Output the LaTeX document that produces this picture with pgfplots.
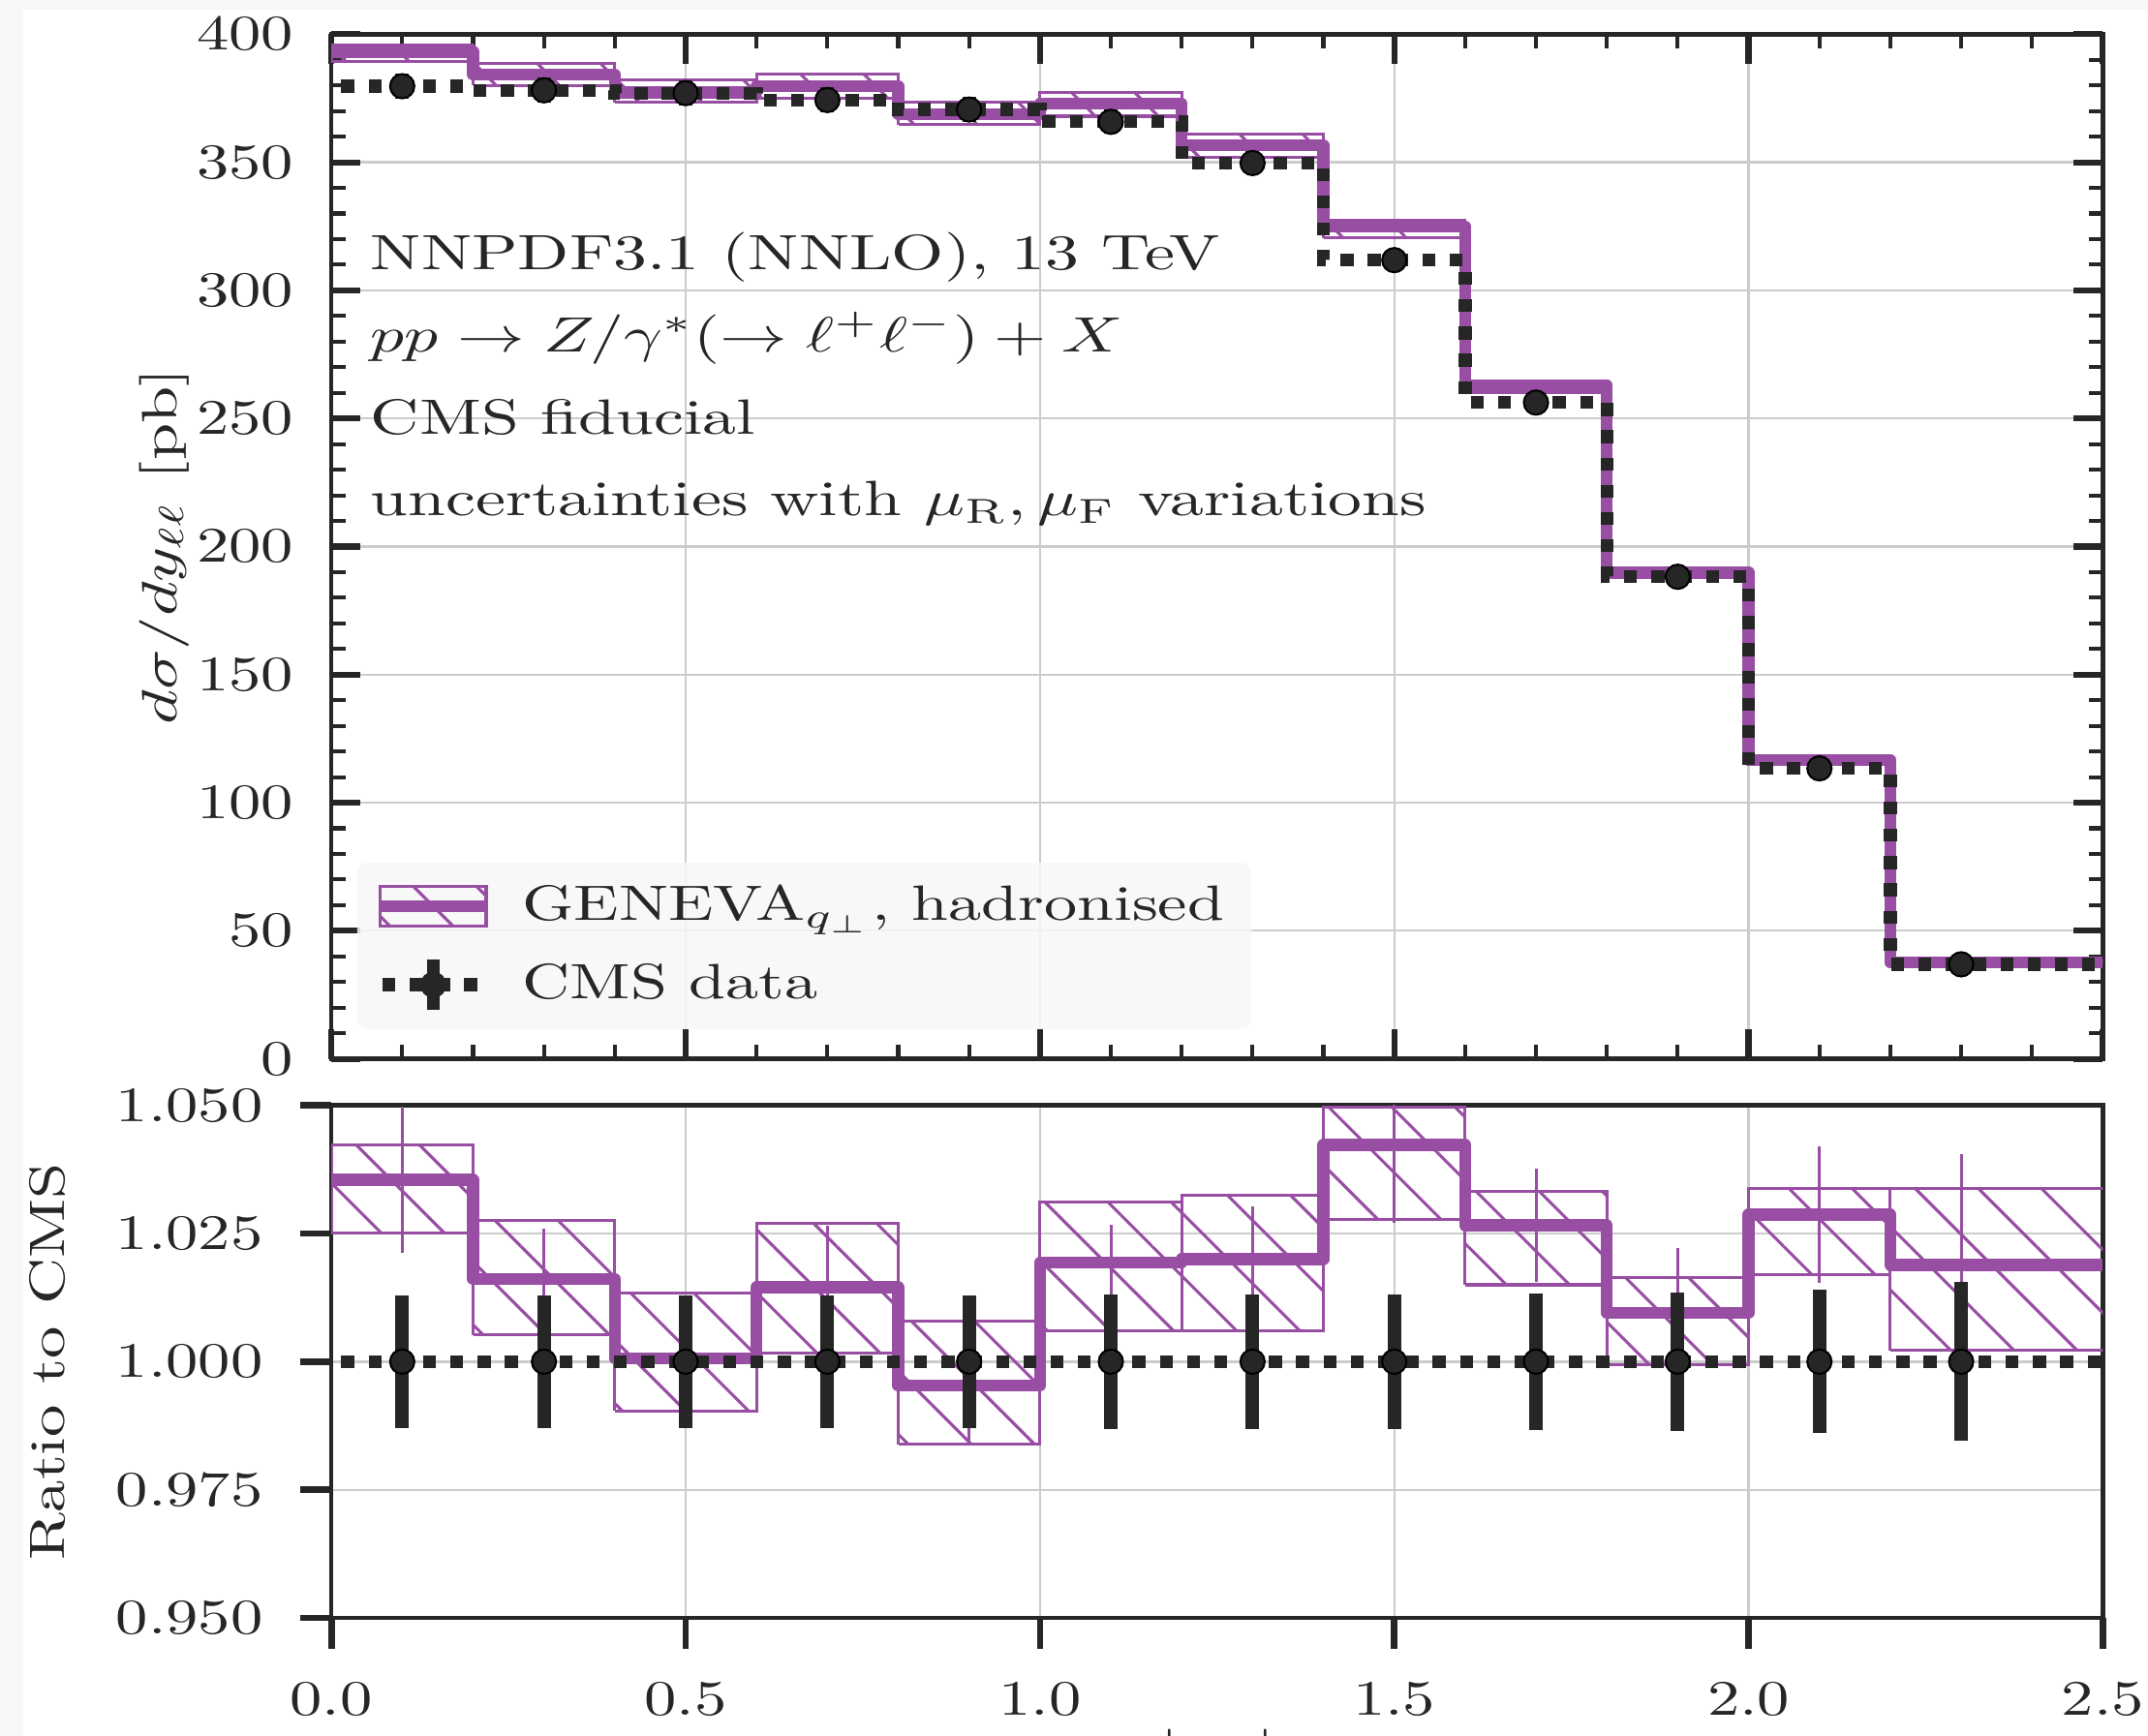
\documentclass[border=0pt]{standalone}
\usepackage{pgfplots}
\pgfplotsset{compat=1.18}
\usepackage{graphicx}
\usetikzlibrary{patterns.meta}

\definecolor{geneva}{HTML}{984EA3}
\definecolor{dark}{HTML}{262626}
\definecolor{gridc}{HTML}{CCCCCC}

\newcommand{\sx}[1]{\scalebox{1.3}[1]{#1}}
\newcommand{\sxa}[1]{\scalebox{1.36}[1]{#1}}

\pgfplotsset{
  band/.style={geneva, line width=0.6pt, pattern={Lines[angle=-45,distance=9pt,line width=0.6pt]}, pattern color=geneva, forget plot},
  cen/.style={geneva, line width=2.4pt, const plot, line join=round, mark=none, forget plot},
  cmsline/.style={dark, line width=2.6pt, const plot, mark=none, dash pattern=on 2.6pt off 2.9pt, dash phase=3.5pt, forget plot},
  cmspts/.style={only marks, mark=*, mark size=2.45pt, mark options={draw=none, fill=dark}, forget plot,
     error bars/.cd, y dir=both, y explicit, error mark=none, error bar style={line width=2.7pt, dark}},
  generr/.style={draw=none, mark=none, forget plot,
     error bars/.cd, y dir=both, y explicit, error mark=none, error bar style={draw=geneva, solid, line width=0.6pt}},
  myaxis/.style={scale only axis, width=357.1pt, xmin=0, xmax=2.5,
     grid=major, major grid style={line width=0.45pt, gridc},
     axis line style={line width=0.9pt, dark}, tick style={dark},
     xtick={0,0.5,1,1.5,2,2.5},
     yticklabel style={inner sep=0pt, xshift=-7.4pt},
  },
}

\begin{document}
\begin{tikzpicture}[every node/.append style={text=dark}]
\fill[black!3] (-66.8pt,6.9pt) rectangle (-62.1pt,-343.05pt);
\fill[black!3] (-66.8pt,6.9pt) rectangle (366.2pt,5.0pt);

% ---------------- top panel ----------------
\begin{axis}[myaxis, at={(0,0)}, anchor=north west, height=206.6pt,
  ymin=0, ymax=400, ytick={0,50,...,400},
  minor x tick num=4, minor y tick num=4,
  tick align=inside, tick pos=both,
  major tick length=5.9pt, minor tick length=2.9pt,
  major tick style={line width=1.2pt}, minor tick style={line width=0.8pt},
  xticklabel=\empty,
  yticklabel={\sx{$\pgfmathprintnumber{\tick}$}},
  ylabel={\scalebox{1.34}[1]{$d\sigma/dy_{\ell\ell}$ [pb]}},
  ylabel style={at={(axis description cs:-0.0944,0.5)}, anchor=center},
  legend style={at={(0.014,0.028)}, anchor=south west, fill=black!3, fill opacity=0.85, text opacity=1,
     draw=none, rounded corners=2pt, inner xsep=3.5pt, inner ysep=2.5pt, row sep=3pt,
     /tikz/every odd column/.append style={column sep=4pt}, nodes={inner sep=2pt, text=dark}},
  legend cell align=left,
]
\addplot[band] coordinates {(0,389.23) (0.2,389.23) (0.2,395.76) (0,395.76) (0,389.23)};
\addplot[band] coordinates {(0.2,380.07) (0.4,380.07) (0.4,388.50) (0.2,388.50) (0.2,380.07)};
\addplot[band] coordinates {(0.4,373.38) (0.6,373.38) (0.6,382.05) (0.4,382.05) (0.4,373.38)};
\addplot[band] coordinates {(0.6,374.90) (0.8,374.90) (0.8,384.41) (0.6,384.41) (0.6,374.90)};
\addplot[band] coordinates {(0.8,364.63) (1.0,364.63) (1.0,373.53) (0.8,373.53) (0.8,364.63)};
\addplot[band] coordinates {(1.0,368.00) (1.2,368.00) (1.2,377.18) (1.0,377.18) (1.0,368.00)};
\addplot[band] coordinates {(1.2,351.80) (1.4,351.80) (1.4,361.07) (1.2,361.07) (1.2,351.80)};
\addplot[band] coordinates {(1.4,320.47) (1.6,320.47) (1.6,327.30) (1.4,327.30) (1.4,320.47)};
\addplot[band] coordinates {(1.6,260.04) (1.8,260.04) (1.8,264.73) (1.6,264.73) (1.6,260.04)};
\addplot[band] coordinates {(1.8,188.09) (2.0,188.09) (2.0,191.31) (1.8,191.31) (1.8,188.09)};
\addplot[band] coordinates {(2.0,115.33) (2.2,115.33) (2.2,117.23) (2.0,117.23) (2.0,115.33)};
\addplot[band] coordinates {(2.2,36.98) (2.6,36.98) (2.6,38.15) (2.2,38.15) (2.2,36.98)};

\addplot[cen] coordinates {(0,393.18) (0.2,384.19) (0.4,377.23) (0.6,379.73) (0.8,368.86) (1.0,372.86)
  (1.2,356.69) (1.4,324.99) (1.6,263.01) (1.8,189.99) (2.0,116.65) (2.2,37.60) (2.5,37.60)};

\addplot[cmsline] coordinates {(0,379.7) (0.2,378.1) (0.4,377.0) (0.6,374.3) (0.8,370.6) (1.0,365.8)
  (1.2,349.7) (1.4,311.8) (1.6,256.2) (1.8,188.2) (2.0,113.4) (2.2,36.9) (2.5,36.9)};
\addplot[cmspts] coordinates {(0.1,379.7) +- (0,4.94) (0.3,378.1) +- (0,4.92) (0.5,377.0) +- (0,4.90)
  (0.7,374.3) +- (0,4.87) (0.9,370.6) +- (0,4.82) (1.1,365.8) +- (0,4.76) (1.3,349.7) +- (0,4.55)
  (1.5,311.8) +- (0,4.05) (1.7,256.2) +- (0,3.41) (1.9,188.2) +- (0,2.54) (2.1,113.4) +- (0,1.59)
  (2.3,36.9) +- (0,0.57)};

\addlegendimage{legend image code/.code={
  \draw[geneva, sharp corners, fill opacity=1, draw opacity=1, line width=0.6pt,
        pattern={Lines[angle=-45,distance=9pt,line width=0.6pt]}, pattern color=geneva]
        (0pt,-4pt) rectangle (21.3pt,4pt);
  \draw[geneva, draw opacity=1, line width=2.4pt] (0pt,0pt) -- (21.3pt,0pt);
}}
\addlegendentry{\scalebox{1.33}[1]{GENEVA$_{q_\perp}$, hadronised}}
\addlegendimage{legend image code/.code={
  \draw[dark, draw opacity=1, line width=2.6pt, dash pattern=on 2.6pt off 2.9pt] (0.4pt,0pt) -- (21.3pt,0pt);
  \draw[dark, draw opacity=1, line width=2.7pt] (10.65pt,-5.1pt) -- (10.65pt,5.1pt);
  \fill[dark, fill opacity=1] (10.65pt,0pt) circle (2.45pt);
}}
\addlegendentry{\scalebox{1.33}[1]{CMS data}}

\node[anchor=base west, inner sep=0pt] at (rel axis cs:0.0217,0.7705) {\sxa{NNPDF3.1 (NNLO), 13 TeV}};
\node[anchor=base west, inner sep=0pt] at (rel axis cs:0.0217,0.690) {\sxa{$pp \to Z/\gamma^*(\to \ell^+\ell^-) + X$}};
\node[anchor=base west, inner sep=0pt] at (rel axis cs:0.0217,0.610) {\sxa{CMS fiducial}};
\node[anchor=base west, inner sep=0pt] at (rel axis cs:0.0217,0.530) {\sxa{uncertainties with $\mu_\mathrm{R}, \mu_\mathrm{F}$ variations}};
\end{axis}

% ---------------- ratio panel ----------------
\begin{axis}[myaxis, at={(0,-216pt)}, anchor=north west, height=103.3pt,
  ymin=0.95, ymax=1.05, ytick={0.95,0.975,1,1.025,1.05},
  tick align=outside, tick pos=left,
  major tick length=6.2pt, major tick style={line width=1.3pt},
  xticklabel={\sx{$\pgfmathprintnumber[fixed,fixed zerofill,precision=1]{\tick}$}},
  xticklabel style={inner sep=0pt, yshift=-6.7pt},
  yticklabel={\sx{$\pgfmathprintnumber[fixed,fixed zerofill,precision=3]{\tick}$}},
  ylabel={\sx{Ratio to CMS}},
  ylabel style={at={(axis description cs:-0.160,0.5)}, anchor=center},
  xlabel={\sx{$|y_{\ell\ell}|$}},
  xlabel style={at={(axis description cs:0.5,0)}, anchor=north, inner sep=0pt, yshift=-22.3pt},
]
\addplot[band] coordinates {(0,1.0251) (0.2,1.0251) (0.2,1.0423) (0,1.0423) (0,1.0251)};
\addplot[band] coordinates {(0.2,1.0052) (0.4,1.0052) (0.4,1.0275) (0.2,1.0275) (0.2,1.0052)};
\addplot[band] coordinates {(0.4,0.9904) (0.6,0.9904) (0.6,1.0134) (0.4,1.0134) (0.4,0.9904)};
\addplot[band] coordinates {(0.6,1.0016) (0.8,1.0016) (0.8,1.0270) (0.6,1.0270) (0.6,1.0016)};
\addplot[band] coordinates {(0.8,0.9839) (1.0,0.9839) (1.0,1.0079) (0.8,1.0079) (0.8,0.9839)};
\addplot[band] coordinates {(1.0,1.0060) (1.2,1.0060) (1.2,1.0311) (1.0,1.0311) (1.0,1.0060)};
\addplot[band] coordinates {(1.2,1.0060) (1.4,1.0060) (1.4,1.0325) (1.2,1.0325) (1.2,1.0060)};
\addplot[band] coordinates {(1.4,1.0278) (1.6,1.0278) (1.6,1.0497) (1.4,1.0497) (1.4,1.0278)};
\addplot[band] coordinates {(1.6,1.0150) (1.8,1.0150) (1.8,1.0333) (1.6,1.0333) (1.6,1.0150)};
\addplot[band] coordinates {(1.8,0.9994) (2.0,0.9994) (2.0,1.0165) (1.8,1.0165) (1.8,0.9994)};
\addplot[band] coordinates {(2.0,1.0170) (2.2,1.0170) (2.2,1.0338) (2.0,1.0338) (2.0,1.0170)};
\addplot[band] coordinates {(2.2,1.0022) (2.6,1.0022) (2.6,1.0338) (2.2,1.0338) (2.2,1.0022)};

\addplot[cen] coordinates {(0,1.0355) (0.2,1.0161) (0.4,1.0006) (0.6,1.0145) (0.8,0.9953) (1.0,1.0193)
  (1.2,1.0200) (1.4,1.0423) (1.6,1.0266) (1.8,1.0095) (2.0,1.0287) (2.2,1.0189) (2.5,1.0189)};
\addplot[generr] coordinates {(0.1,1.0355) +- (0,0.0142) (0.3,1.0161) +- (0,0.0098) (0.5,1.0006) +- (0,0.0090)
  (0.7,1.0145) +- (0,0.0120) (0.9,0.9953) +- (0,0.0110) (1.1,1.0193) +- (0,0.0075) (1.3,1.0200) +- (0,0.0104)
  (1.5,1.0423) +- (0,0.0152) (1.7,1.0266) +- (0,0.0110) (1.9,1.0095) +- (0,0.0126) (2.1,1.0287) +- (0,0.0133)
  (2.3,1.0189) +- (0,0.0216)};

\addplot[cmsline] coordinates {(0,1) (2.5,1)};
\addplot[cmspts] coordinates {(0.1,1) +- (0,0.0130) (0.3,1) +- (0,0.0130) (0.5,1) +- (0,0.0130)
  (0.7,1) +- (0,0.0130) (0.9,1) +- (0,0.0130) (1.1,1) +- (0,0.0131) (1.3,1) +- (0,0.0131)
  (1.5,1) +- (0,0.0131) (1.7,1) +- (0,0.0133) (1.9,1) +- (0,0.0135) (2.1,1) +- (0,0.0140)
  (2.3,1) +- (0,0.0155)};
\end{axis}

\pgfresetboundingbox
\path[use as bounding box] (-66.8pt,6.9pt) rectangle (366.2pt,-343.05pt);
\end{tikzpicture}
\end{document}
